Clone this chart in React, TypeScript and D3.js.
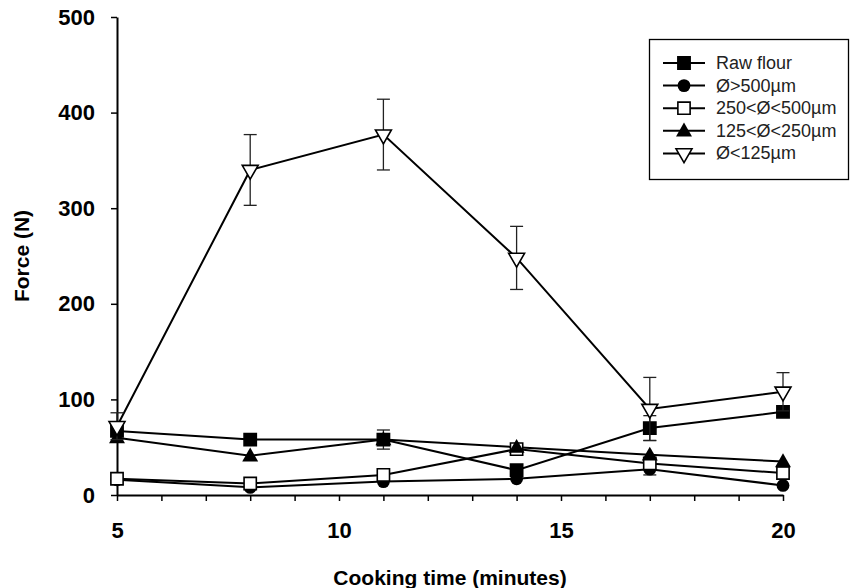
import { axisBottom, axisLeft, line, range, scaleLinear, select, symbol, symbolCircle, symbolSquare, symbolTriangle } from 'd3';
import React, { useEffect, useRef } from 'react';

const WIDTH = 850;
const HEIGHT = 588;
const X0 = 117;
const X1 = 783;
const Y_TOP = 17;
const Y_BOTTOM = 495;

const minutes = [5, 8, 11, 14, 17, 20];
const rawFlour = [67, 58, 58, 26, 70, 87];
const rawFlourErr = [0, 0, 10, 0, 13, 0];
const over500 = [16, 8, 14, 17, 27, 10];
const over500Err = [0, 0, 0, 0, 6, 0];
const from250to500 = [17, 12, 21, 48, 33, 23];
const from125to250 = [60, 41, 58, 50, 42, 35];
const under125 = [72, 340, 377, 248, 90, 108];
const under125Err = [14, 37, 37, 33, 33, 20];

const legendLabels = ['Raw flour', 'Ø>500µm', '250<Ø<500µm', '125<Ø<250µm', 'Ø<125µm'];
const yTicks = [0, 100, 200, 300, 400, 500];
const xTickLabels = [5, 10, 15, 20];

type Marker = 'square' | 'circle' | 'openSquare' | 'triangle' | 'openTriangleDown';

const series: { values: number[]; errors: number[]; marker: Marker }[] = [
  { values: rawFlour, errors: rawFlourErr, marker: 'square' },
  { values: over500, errors: over500Err, marker: 'circle' },
  { values: from250to500, errors: minutes.map(() => 0), marker: 'openSquare' },
  { values: from125to250, errors: minutes.map(() => 0), marker: 'triangle' },
  { values: under125, errors: under125Err, marker: 'openTriangleDown' },
];

const drawMarker = (g: any, marker: Marker, x: number, y: number) => {
  if (marker === 'square' || marker === 'openSquare') {
    g.append('path')
      .attr('d', symbol(symbolSquare, 150)())
      .attr('transform', `translate(${x},${y})`)
      .attr('fill', marker === 'square' ? '#000' : '#fff')
      .attr('stroke', '#000')
      .attr('stroke-width', 1.6);
  } else if (marker === 'circle') {
    g.append('path')
      .attr('d', symbol(symbolCircle, 130)())
      .attr('transform', `translate(${x},${y})`)
      .attr('fill', '#000');
  } else if (marker === 'triangle') {
    g.append('path')
      .attr('d', symbol(symbolTriangle, 110)())
      .attr('transform', `translate(${x},${y + 1})`)
      .attr('fill', '#000');
  } else {
    g.append('path')
      .attr('d', symbol(symbolTriangle, 110)())
      .attr('transform', `translate(${x},${y}) rotate(180)`)
      .attr('fill', '#fff')
      .attr('stroke', '#000')
      .attr('stroke-width', 1.6);
  }
};

const ForceChart = (): JSX.Element => {
  const ref = useRef<SVGSVGElement>(null);

  useEffect(() => {
    if (ref.current === null) return;
    ref.current.replaceChildren();

    const x = scaleLinear().domain([5, 20]).range([X0, X1]);
    const y = scaleLinear().domain([0, 500]).range([Y_BOTTOM, Y_TOP]);

    const svg = select(ref.current)
      .attr('width', WIDTH)
      .attr('height', HEIGHT)
      .attr('viewBox', [0, 0, WIDTH, HEIGHT])
      .style('position', 'absolute')
      .style('left', 0)
      .style('top', 0)
      .style('background', '#fff');

    // x axis, a tick every minute, labels every five
    svg
      .append('g')
      .attr('transform', `translate(0, ${Y_BOTTOM})`)
      .call(
        axisBottom(x)
          .tickValues(range(5, 21))
          .tickSize(6)
          .tickSizeOuter(0)
          .tickFormat((d) => (xTickLabels.includes(+d) ? String(d) : '')),
      )
      .call((g) => g.select('.domain').attr('stroke-width', 2))
      .call((g) => g.selectAll('.tick line').attr('stroke-width', 1.5))
      .call((g) =>
        g
          .selectAll('.tick text')
          .attr('dy', 0)
          .attr('y', 43)
          .attr('font-family', '"Liberation Sans", Arial, sans-serif')
          .attr('font-weight', 'bold')
          .attr('font-size', 22)
          .attr('fill', '#000'),
      );

    // y axis
    svg
      .append('g')
      .attr('transform', `translate(${X0}, 0)`)
      .call(axisLeft(y).tickValues(yTicks).tickSize(6).tickSizeOuter(0))
      .call((g) => g.select('.domain').attr('stroke-width', 2))
      .call((g) => g.selectAll('.tick line').attr('stroke-width', 1.5))
      .call((g) =>
        g
          .selectAll('.tick text')
          .attr('x', -22)
          .attr('font-family', '"Liberation Sans", Arial, sans-serif')
          .attr('font-weight', 'bold')
          .attr('font-size', 22)
          .attr('fill', '#000'),
      );

    // axis titles
    svg
      .append('text')
      .attr('x', 450)
      .attr('y', 585)
      .attr('text-anchor', 'middle')
      .attr('font-family', '"Liberation Sans", Arial, sans-serif')
      .attr('font-weight', 'bold')
      .attr('font-size', 21)
      .text('Cooking time (minutes)');

    svg
      .append('text')
      .attr('transform', 'translate(29, 256) rotate(-90)')
      .attr('text-anchor', 'middle')
      .attr('font-family', '"Liberation Sans", Arial, sans-serif')
      .attr('font-weight', 'bold')
      .attr('font-size', 21)
      .text('Force (N)');

    const path = line<number>()
      .x((_, i) => x(minutes[i]))
      .y((d) => y(d));

    // lines first, then error bars and markers on top
    series.forEach((s) => {
      svg
        .append('path')
        .attr('d', path(s.values))
        .attr('fill', 'none')
        .attr('stroke', '#000')
        .attr('stroke-width', 2);
    });

    series.forEach((s) => {
      const g = svg.append('g');
      s.values.forEach((v, i) => {
        const e = s.errors[i];
        if (e > 0) {
          const cx = x(minutes[i]);
          g.append('line')
            .attr('x1', cx)
            .attr('x2', cx)
            .attr('y1', y(v - e))
            .attr('y2', y(v + e))
            .attr('stroke', '#222')
            .attr('stroke-width', 1.3);
          [v - e, v + e].forEach((w) =>
            g
              .append('line')
              .attr('x1', cx - 6.5)
              .attr('x2', cx + 6.5)
              .attr('y1', y(w))
              .attr('y2', y(w))
              .attr('stroke', '#222')
              .attr('stroke-width', 1.3),
          );
        }
      });
      s.values.forEach((v, i) => drawMarker(g, s.marker, x(minutes[i]), y(v)));
    });

    // legend
    const legend = svg.append('g');
    legend
      .append('rect')
      .attr('x', 649.5)
      .attr('y', 39.5)
      .attr('width', 199)
      .attr('height', 140)
      .attr('fill', '#fff')
      .attr('stroke', '#000')
      .attr('stroke-width', 1.3);

    series.forEach((s, i) => {
      const ly = 63 + i * 22.6;
      legend
        .append('line')
        .attr('x1', 663)
        .attr('x2', 705)
        .attr('y1', ly)
        .attr('y2', ly)
        .attr('stroke', '#000')
        .attr('stroke-width', 2);
      drawMarker(legend, s.marker, 684, ly);
      legend
        .append('text')
        .attr('x', 716)
        .attr('y', ly + 6)
        .attr('font-family', '"Liberation Sans", Arial, sans-serif')
        .attr('font-size', 18)
        .attr('fill', '#222')
        .text(legendLabels[i]);
    });
  }, [ref]);

  return <svg ref={ref} />;
};

export default function App() {
  return <ForceChart />;
}
